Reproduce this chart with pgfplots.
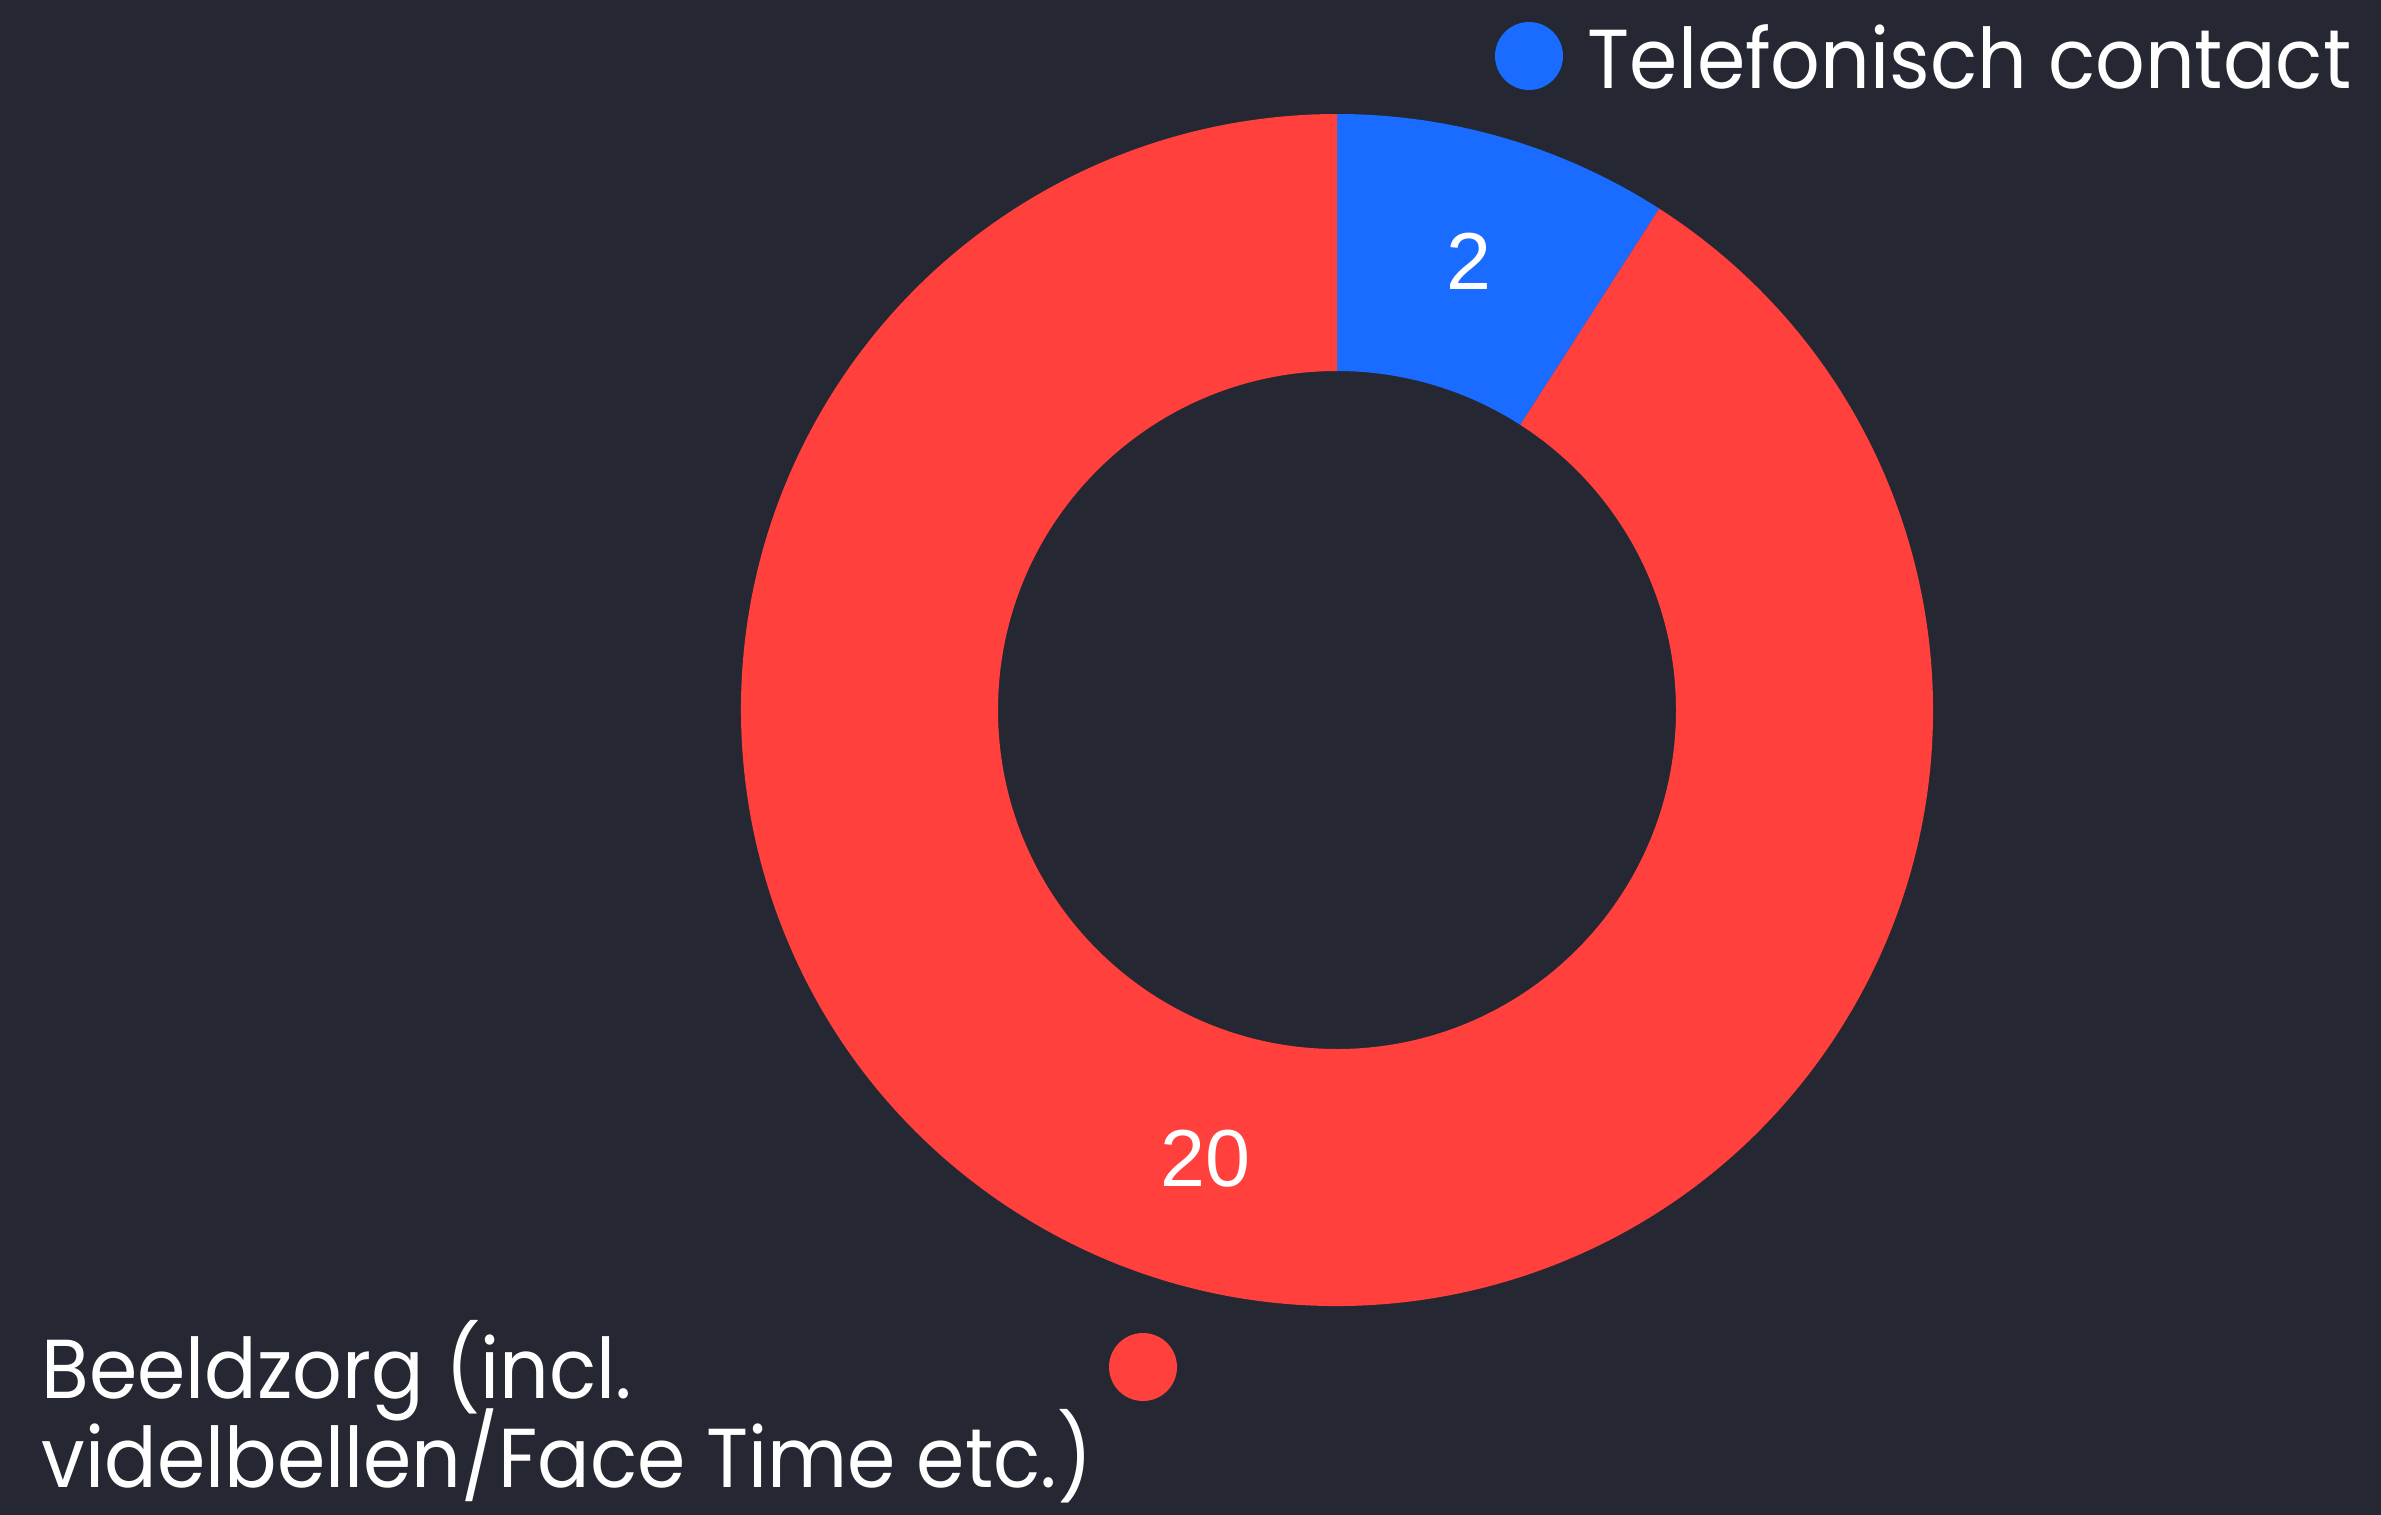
\documentclass[border=0pt]{standalone}
\usepackage{pgfplots}
\pgfplotsset{compat=1.18}
\usepackage{pgfplotstable}
\usepackage{fontspec}
\setmainfont{Poppins}[FakeStretch=0.93]
\newfontfamily\numfont{Liberation Sans}
\definecolor{bg}{HTML}{252833}
\definecolor{cblue}{HTML}{1A6BFF}
\definecolor{cred}{HTML}{FF403C}
\pgfplotstableread{
label value
Telefonisch 2
Beeldzorg 20
}\donutdata
\begin{document}
\begin{tikzpicture}
\pgfplotstablegetelem{0}{value}\of\donutdata \let\va\pgfplotsretval
\pgfplotstablegetelem{1}{value}\of\donutdata \let\vb\pgfplotsretval
\pgfmathsetmacro\tot{\va+\vb}
\pgfmathsetmacro\aA{90}
\pgfmathsetmacro\aB{90-360*\va/\tot}
\pgfmathsetmacro\aC{\aB-360*\vb/\tot}
\pgfmathsetmacro\mA{(\aA+\aB)/2}
\pgfmathsetmacro\mB{(\aB+\aC)/2}
\begin{axis}[width=238.1mm,height=151.4mm,scale only axis,
  xmin=0,xmax=2381,ymin=0,ymax=1514,hide axis,clip=false]
\fill[bg] (axis cs:-10,-10) rectangle (axis cs:2391,1524);
\coordinate (bl) at (axis cs:0,0);
\coordinate (tr) at (axis cs:2381,1514);
\coordinate (c) at (axis cs:1337,804);
\fill[cblue] ([shift={(\aA:59.6mm)}]c) arc[start angle=\aA,end angle=\aB,radius=59.6mm]
  -- ([shift={(\aB:33.9mm)}]c) arc[start angle=\aB,end angle=\aA,radius=33.9mm] -- cycle;
\fill[cred] ([shift={(\aB:59.6mm)}]c) arc[start angle=\aB,end angle=\aC,radius=59.6mm]
  -- ([shift={(\aC:33.9mm)}]c) arc[start angle=\aC,end angle=\aB,radius=33.9mm] -- cycle;
\node[text=white,font=\numfont\fontsize{23pt}{27pt}\selectfont] at ([shift={(\mA:46.75mm)}]c) {2};
\node[text=white,font=\numfont\fontsize{23pt}{27pt}\selectfont] at ([shift={(\mB:46.75mm)}]c) {20};
% legend
\fill[cblue] (axis cs:1529,1458) circle[radius=3.4mm];
\node[anchor=base west,inner sep=0pt,text=white,font=\fontsize{23.8pt}{28pt}\selectfont] at (axis cs:1587,1426) {Telefonisch contact};
\fill[cred] (axis cs:1143,147) circle[radius=3.4mm];
\node[anchor=base west,inner sep=0pt,text=white,font=\fontsize{23.8pt}{28pt}\selectfont] at (axis cs:41,116) {Beeldzorg (incl.};
\node[anchor=base west,inner sep=0pt,text=white,font=\fontsize{23.8pt}{28pt}\selectfont] at (axis cs:41,27) {videlbellen/Face Time etc.)};
\end{axis}
\pgfresetboundingbox
\path[use as bounding box] (bl) rectangle (tr);
\end{tikzpicture}
\end{document}
